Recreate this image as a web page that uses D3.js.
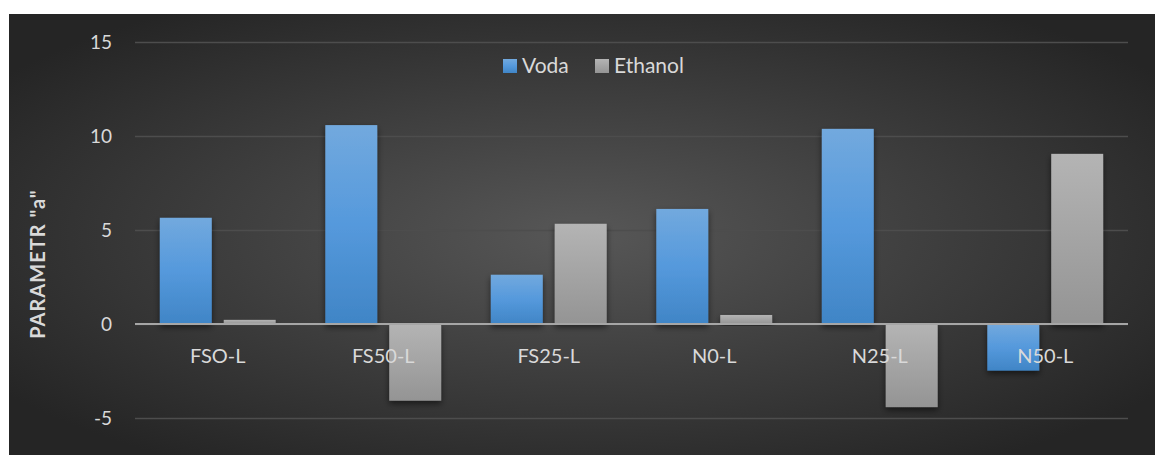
<!DOCTYPE html>
<html>
<head>
<meta charset="utf-8">
<script src="https://cdnjs.cloudflare.com/ajax/libs/d3/7.8.5/d3.min.js"></script>
<style>
  body { margin: 0; background: #fff; }
  text { font-family: Lato, "Open Sans", sans-serif; fill: #d9d9d9; }
</style>
</head>
<body>
<div id="chart"></div>
<script>
// data
var categories = ["FSO-L", "FS50-L", "FS25-L", "N0-L", "N25-L", "N50-L"];
var seriesNames = ["Voda", "Ethanol"];
var vodaValues = [5.65, 10.58, 2.62, 6.12, 10.38, -2.48];
var ethanolValues = [0.22, -4.08, 5.33, 0.48, -4.42, 9.05];
var yTicks = [-5, 0, 5, 10, 15];

var width = 1155, height = 455;
var margin = {left: 135, right: 27, top: 42, bottom: 37};

var svg = d3.select("#chart").append("svg")
    .attr("width", width)
    .attr("height", height);

var defs = svg.append("defs");

// background gradient, lighter in the middle
var bg = defs.append("radialGradient")
    .attr("id", "bgGrad")
    .attr("cx", "50%").attr("cy", "50%").attr("r", "62%");
bg.append("stop").attr("offset", "0%").attr("stop-color", "#575757");
bg.append("stop").attr("offset", "100%").attr("stop-color", "#252525");

var blueGrad = defs.append("linearGradient")
    .attr("id", "blueGrad").attr("x1", 0).attr("y1", 0).attr("x2", 0).attr("y2", 1);
blueGrad.append("stop").attr("offset", "0%").attr("stop-color", "#72a9de");
blueGrad.append("stop").attr("offset", "50%").attr("stop-color", "#5599dc");
blueGrad.append("stop").attr("offset", "100%").attr("stop-color", "#4085c6");

var grayGrad = defs.append("linearGradient")
    .attr("id", "grayGrad").attr("x1", 0).attr("y1", 0).attr("x2", 0).attr("y2", 1);
grayGrad.append("stop").attr("offset", "0%").attr("stop-color", "#b4b4b4");
grayGrad.append("stop").attr("offset", "100%").attr("stop-color", "#949494");

var shadow = defs.append("filter").attr("id", "shadow")
    .attr("x", "-20%").attr("y", "-20%").attr("width", "140%").attr("height", "140%");
shadow.append("feDropShadow")
    .attr("dx", 0).attr("dy", 3).attr("stdDeviation", 3)
    .attr("flood-color", "#000").attr("flood-opacity", 0.55);

svg.append("rect")
    .attr("x", 9).attr("y", 14)
    .attr("width", width - 9).attr("height", height - 14)
    .attr("fill", "url(#bgGrad)");

var x0 = d3.scaleBand()
    .domain(categories)
    .range([margin.left, width - margin.right]);

var x1 = d3.scaleBand()
    .domain(seriesNames)
    .range([x0.bandwidth() * 0.15, x0.bandwidth() * 0.85])
    .paddingInner(0.1875);

var y = d3.scaleLinear()
    .domain([-5, 15])
    .range([418, 42]);

var color = d3.scaleOrdinal()
    .domain(seriesNames)
    .range(["url(#blueGrad)", "url(#grayGrad)"]);

// gridlines
var yAxis = d3.axisLeft(y)
    .tickValues(yTicks)
    .tickSize(-(width - margin.right - margin.left))
    .tickPadding(23)
    .tickFormat(function(d) { return String(d); });

var yG = svg.append("g")
    .attr("transform", "translate(" + margin.left + ",0)")
    .call(yAxis);
yG.select(".domain").remove();
yG.selectAll(".tick line")
    .attr("stroke", "#4d4d4d")
    .attr("stroke-width", 1.5);
yG.selectAll(".tick text")
    .style("font-size", "19px")
    .attr("fill", "#d9d9d9");

// bars
var rows = categories.map(function(c, i) {
    return {cat: c, values: [
        {series: "Voda", value: vodaValues[i]},
        {series: "Ethanol", value: ethanolValues[i]}
    ]};
});

var groups = svg.selectAll(".group")
    .data(rows)
    .enter().append("g")
    .attr("class", "group")
    .attr("transform", function(d) { return "translate(" + x0(d.cat) + ",0)"; });

groups.selectAll("rect")
    .data(function(d) { return d.values; })
    .enter().append("rect")
    .attr("x", function(d) { return x1(d.series); })
    .attr("y", function(d) { return y(Math.max(0, d.value)); })
    .attr("width", x1.bandwidth())
    .attr("height", function(d) { return Math.abs(y(d.value) - y(0)); })
    .attr("fill", function(d) { return color(d.series); })
    .attr("filter", "url(#shadow)");

// zero line
svg.append("line")
    .attr("x1", margin.left).attr("x2", width - margin.right)
    .attr("y1", y(0)).attr("y2", y(0))
    .attr("stroke", "#a6a6a6")
    .attr("stroke-width", 2);

// category labels
var xAxis = d3.axisBottom(x0).tickSize(0).tickPadding(25);
var xG = svg.append("g")
    .attr("transform", "translate(0," + y(0) + ")")
    .call(xAxis);
xG.select(".domain").remove();
xG.selectAll(".tick text")
    .style("font-size", "20px")
    .attr("fill", "#d9d9d9");

// axis title
svg.append("text")
    .attr("transform", "translate(45," + 264 + ") rotate(-90)")
    .attr("text-anchor", "middle")
    .style("font-size", "20px")
    .style("font-weight", "bold")
    .style("letter-spacing", "1px")
    .text('PARAMETR "a"');

// legend
var legend = svg.selectAll(".legend")
    .data(seriesNames)
    .enter().append("g")
    .attr("class", "legend")
    .attr("transform", function(d, i) {
        return "translate(" + (503 + i * 92) + ",59)";
    });

legend.append("rect")
    .attr("width", 14)
    .attr("height", 14)
    .attr("fill", function(d) { return color(d); });

legend.append("text")
    .attr("x", 19)
    .attr("y", 14)
    .style("font-size", "21px")
    .text(function(d) { return d; });
</script>
</body>
</html>
